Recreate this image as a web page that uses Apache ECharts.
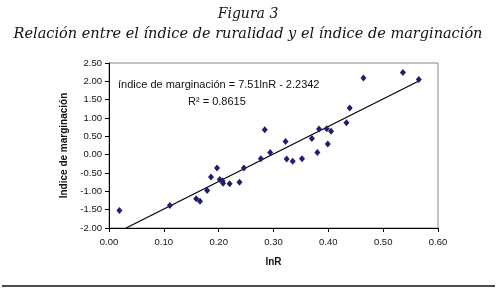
<!DOCTYPE html>
<html>
<head>
<meta charset="utf-8">
<script src="https://cdn.jsdelivr.net/npm/echarts@6/dist/echarts.min.js"></script>
<style>
  html, body { margin: 0; padding: 0; background: #fff; }
  #chart { width: 496px; height: 289px; }
</style>
</head>
<body>
<div id="chart"></div>
<script>
// índice de ruralidad (lnR) vs índice de marginación
const lnR = [
  0.019, 0.111, 0.159, 0.166, 0.179, 0.186, 0.197, 0.202, 0.207, 0.208,
  0.220, 0.238, 0.246, 0.277, 0.284, 0.294, 0.322, 0.324, 0.335, 0.352,
  0.370, 0.380, 0.383, 0.397, 0.399, 0.405, 0.433, 0.439, 0.464, 0.536, 0.565
];
const marginacion = [
  -1.52, -1.385, -1.20, -1.27, -0.975, -0.61, -0.365, -0.68, -0.72, -0.78,
  -0.79, -0.75, -0.365, -0.11, 0.68, 0.06, 0.36, -0.12, -0.18, -0.11,
  0.44, 0.06, 0.70, 0.71, 0.29, 0.64, 0.87, 1.27, 2.09, 2.24, 2.05
];

// recta de regresión: y = 7.51 lnR - 2.2342
const fitSlope = 7.51;
const fitIntercept = -2.2342;
const fitRange = [(-2 - fitIntercept) / fitSlope, 0.565];

const xTicks = [0, 0.6, 0.1];     // min, max, interval
const yTicks = [-2, 2.5, 0.5];

const chart = echarts.init(document.getElementById('chart'));

const points = lnR.map((x, i) => [x, marginacion[i]]);
const fitLine = fitRange.map(x => [x, fitSlope * x + fitIntercept]);

const option = {
  animation: false,
  title: [
    {
      text: 'Figura 3',
      left: 'center',
      top: 2,
      textStyle: { fontFamily: 'DejaVu Serif', fontStyle: 'italic', fontWeight: 'normal', fontSize: 14, color: '#111' }
    },
    {
      text: 'Relación entre el índice de ruralidad y el índice de marginación',
      left: 'center',
      top: 22,
      textStyle: { fontFamily: 'DejaVu Serif', fontStyle: 'italic', fontWeight: 'normal', fontSize: 14.5, color: '#111' }
    }
  ],
  grid: {
    left: 109,
    right: 58,
    top: 63,
    bottom: 61,
    show: true,
    borderColor: '#888',
    borderWidth: 1
  },
  xAxis: {
    type: 'value',
    min: xTicks[0],
    max: xTicks[1],
    interval: xTicks[2],
    name: 'lnR',
    nameLocation: 'middle',
    nameGap: 29,
    nameTextStyle: { fontFamily: 'Liberation Sans', fontWeight: 'bold', fontSize: 10, color: '#111' },
    axisLine: { onZero: false, lineStyle: { color: '#000', width: 1 } },
    axisTick: { show: true, length: 4, lineStyle: { color: '#000' } },
    axisLabel: { fontFamily: 'Liberation Sans', fontSize: 9.5, color: '#111', margin: 9, formatter: v => v.toFixed(2) },
    splitLine: { show: false }
  },
  yAxis: {
    type: 'value',
    min: yTicks[0],
    max: yTicks[1],
    interval: yTicks[2],
    name: 'Indice de marginación',
    nameLocation: 'middle',
    nameGap: 31,
    nameTextStyle: { fontFamily: 'Liberation Sans', fontWeight: 'bold', fontSize: 10, color: '#111' },
    axisLine: { onZero: false, lineStyle: { color: '#000', width: 1 } },
    axisTick: { show: true, length: 4, lineStyle: { color: '#000' } },
    axisLabel: { fontFamily: 'Liberation Sans', fontSize: 9.5, color: '#111', margin: 7, formatter: v => v.toFixed(2) },
    splitLine: { show: false }
  },
  series: [
    {
      type: 'line',
      data: fitLine,
      symbol: 'none',
      lineStyle: { color: '#000', width: 1.2 },
      z: 2
    },
    {
      type: 'scatter',
      data: points,
      symbol: 'diamond',
      symbolSize: [6, 7],
      itemStyle: { color: '#1f1f6b', opacity: 1 },
      z: 3
    }
  ],
  graphic: [
    {
      type: 'text',
      left: 118,
      top: 79,
      style: { text: 'índice de marginación = 7.51lnR - 2.2342', font: '11px "Liberation Sans"', fill: '#111' }
    },
    {
      type: 'text',
      left: 188,
      top: 96,
      style: { text: 'R² = 0.8615', font: '11px "Liberation Sans"', fill: '#111' }
    },
    {
      type: 'line',
      shape: { x1: 2, y1: 286, x2: 495, y2: 286 },
      style: { stroke: '#111', lineWidth: 1.5 }
    }
  ]
};

chart.setOption(option);
</script>
</body>
</html>
